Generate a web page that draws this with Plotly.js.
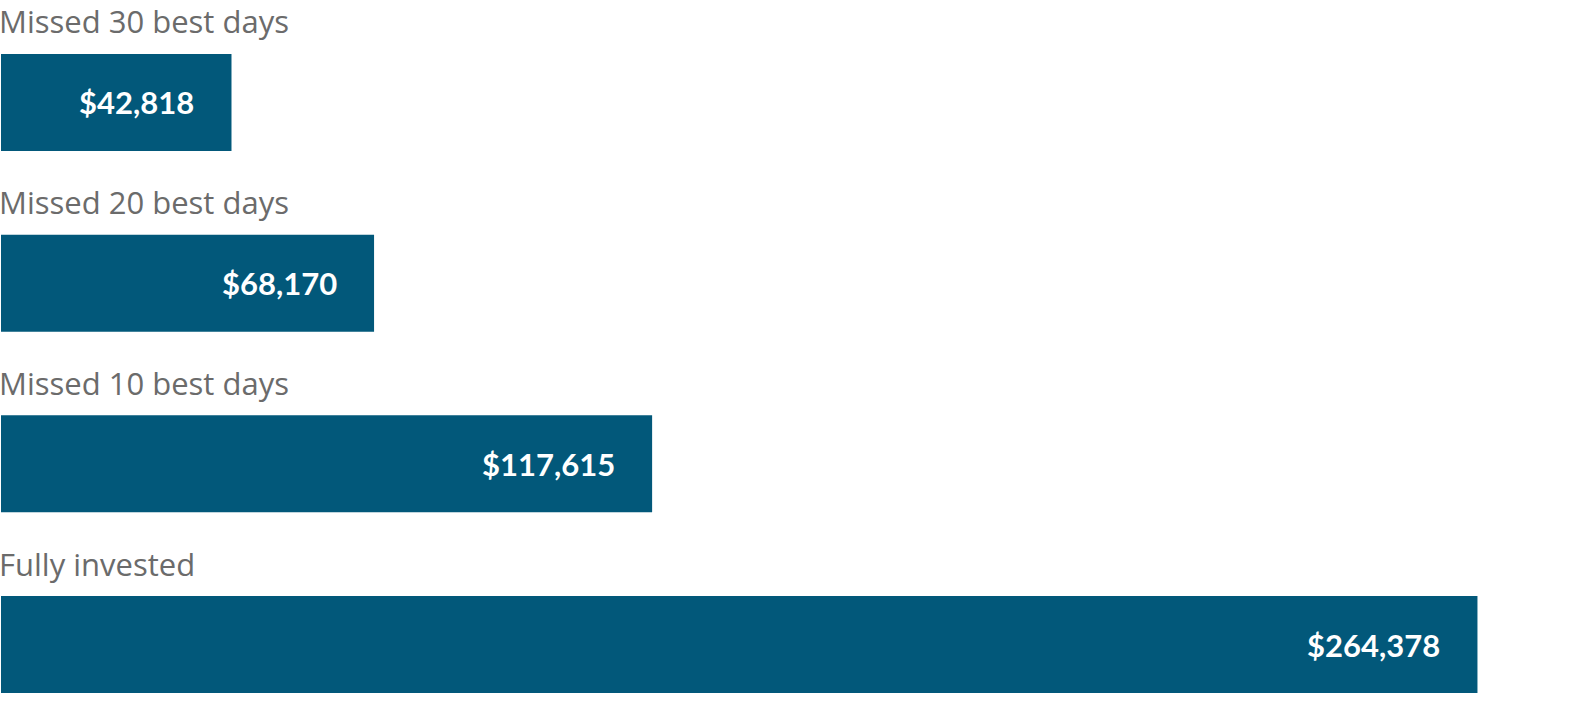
<!DOCTYPE html>
<html>
<head>
<meta charset="utf-8">
<script src="https://cdn.plot.ly/plotly-3.0.1.min.js"></script>
<style>
  html, body { margin: 0; padding: 0; background: #fff; }
  #chart { width: 1570px; height: 704px; }
</style>
</head>
<body>
<div id="chart"></div>
<script>
var categories = ['Missed 30 best days', 'Missed 20 best days', 'Missed 10 best days', 'Fully invested'];
var values = [42818, 68170, 117615, 264378];
var valueLabels = ['$42,818', '$68,170', '$117,615', '$264,378'];

var barColor = '#02587a';

var bars = [{
  type: 'bar',
  orientation: 'h',
  y: categories,
  x: values,
  width: 0.537,
  marker: {color: barColor, line: {width: 0}},
  hoverinfo: 'none'
}];

var notes = [];
categories.forEach(function (c, i) {
  // category label above the bar
  notes.push({
    xref: 'paper', yref: 'y',
    x: 0, y: c,
    xanchor: 'left', yanchor: 'middle',
    xshift: -4, yshift: 81,
    text: c,
    showarrow: false,
    font: {family: 'Open Sans, sans-serif', size: 31, color: '#6b6b6b'}
  });
  // value label inside the bar end
  notes.push({
    xref: 'x', yref: 'y',
    x: values[i], y: c,
    xanchor: 'right', yanchor: 'middle',
    xshift: -35,
    text: '<b>' + valueLabels[i] + '</b>',
    showarrow: false,
    font: {family: 'Lato, sans-serif', size: 31, color: '#ffffff'}
  });
});

var layout = {
  width: 1570, height: 704,
  margin: {t: 0, b: 0, l: 1, r: 0},
  paper_bgcolor: '#ffffff',
  plot_bgcolor: '#ffffff',
  showlegend: false,
  xaxis: {
    range: [1832, 280833],
    showgrid: false, zeroline: false, showticklabels: false, showline: false
  },
  yaxis: {
    type: 'category',
    range: [3.329, -0.567],
    showgrid: false, zeroline: false, showticklabels: false, showline: false
  },
  annotations: notes
};

Plotly.newPlot('chart', bars, layout, {displayModeBar: false, staticPlot: true});
</script>
</body>
</html>
